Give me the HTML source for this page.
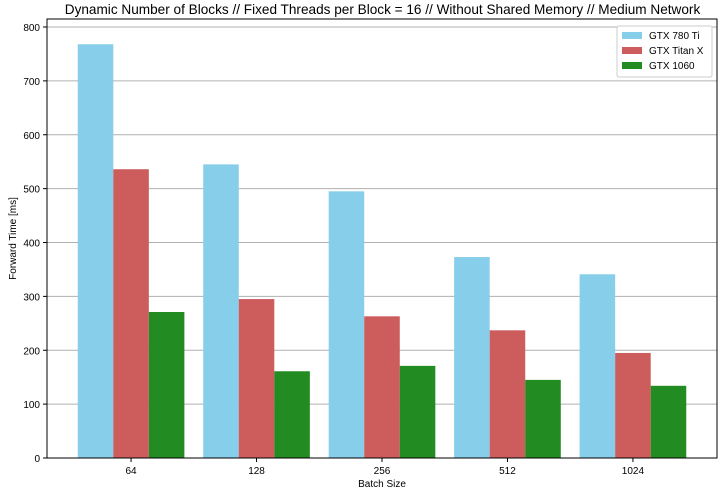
<!DOCTYPE html>
<html><head><meta charset="utf-8">
<style>
body{margin:0;background:#fff;font-family:"Liberation Sans","DejaVu Sans",sans-serif;}
svg text{font-family:"Liberation Sans","DejaVu Sans",sans-serif;}
</style></head>
<body>
<svg id="chart" width="727" height="496" xmlns="http://www.w3.org/2000/svg"></svg>
<script>
const categories=["64","128","256","512","1024"];
const seriesNames=["GTX 780 Ti","GTX Titan X","GTX 1060"];
const gtx780ti=[768,545,495,373,341];
const titanX=[536,295,263,237,195];
const gtx1060=[271,161,171,145,134];
const yTicks=[0,100,200,300,400,500,600,700,800];
const colors=["#87ceeb","#cd5c5c","#228b22"];
const series=[gtx780ti,titanX,gtx1060];

const NS="http://www.w3.org/2000/svg";
const svg=document.getElementById("chart");
const L=47,R=717,T=19,B=458;
const xmin=-0.67,xmax=4.67,ymax=(B-T)/((B-27)/800);
const x=v=>L+(v-xmin)/(xmax-xmin)*(R-L);
const y=v=>B-v/ymax*(B-T);
function el(tag,attrs,parent){const e=document.createElementNS(NS,tag);for(const k in attrs)e.setAttribute(k,attrs[k]);(parent||svg).appendChild(e);return e;}

yTicks.forEach(t=>{
  const g=el("line",{x1:L,x2:R,y1:y(t),y2:y(t),stroke:"#b0b0b0","stroke-width":1});
  
  
  const tk=el("line",{x1:L-4,x2:L,y1:y(t),y2:y(t),stroke:"#000"});
  
  
  const tx=el("text",{x:L-7,y:y(t)+4,"text-anchor":"end","font-size":10,fill:"#000"});
  tx.textContent=t;
  
  
});
const bw=0.2833;
series.forEach((s,si)=>{
  s.forEach((v,i)=>{
    const c=i+(si-1)*bw;
    const r=el("rect",{x:x(c-bw/2),y:y(v),width:x(c+bw/2)-x(c-bw/2),height:B-y(v),fill:colors[si]});
    
    
  });
});
categories.forEach((c,i)=>{
  const tk=el("line",{x1:x(i),x2:x(i),y1:B,y2:B+4,stroke:"#000"});
  
  
  const t=el("text",{x:x(i),y:B+16,"text-anchor":"middle","font-size":10});
  t.textContent=c;
  
  
});
const frame=el("rect",{x:L,y:T,width:R-L,height:B-T,fill:"none",stroke:"#000","stroke-width":1});


const title=el("text",{x:(L+R)/2+0.5,y:14,"text-anchor":"middle","font-size":13.6});
title.textContent="Dynamic Number of Blocks // Fixed Threads per Block = 16 // Without Shared Memory // Medium Network";


const xl=el("text",{x:(L+R)/2,y:487,"text-anchor":"middle","font-size":10});
xl.textContent="Batch Size";


const yl=el("text",{x:16,y:(T+B)/2,"text-anchor":"middle","font-size":10,transform:`rotate(-90 16 ${(T+B)/2})`});
yl.textContent="Forward Time [ms]";


const lg=el("g",{});


el("rect",{x:617,y:26,width:95,height:51,fill:"#fff",stroke:"#ccc",rx:2},lg);
seriesNames.forEach((n,i)=>{
  const sw=el("rect",{x:622,y:32+i*15,width:20,height:7,fill:colors[i]},lg);
  
  
  const t=el("text",{x:649,y:39+i*15,"font-size":10},lg);
  t.textContent=n;
  
  
});
</script>
</body></html>
